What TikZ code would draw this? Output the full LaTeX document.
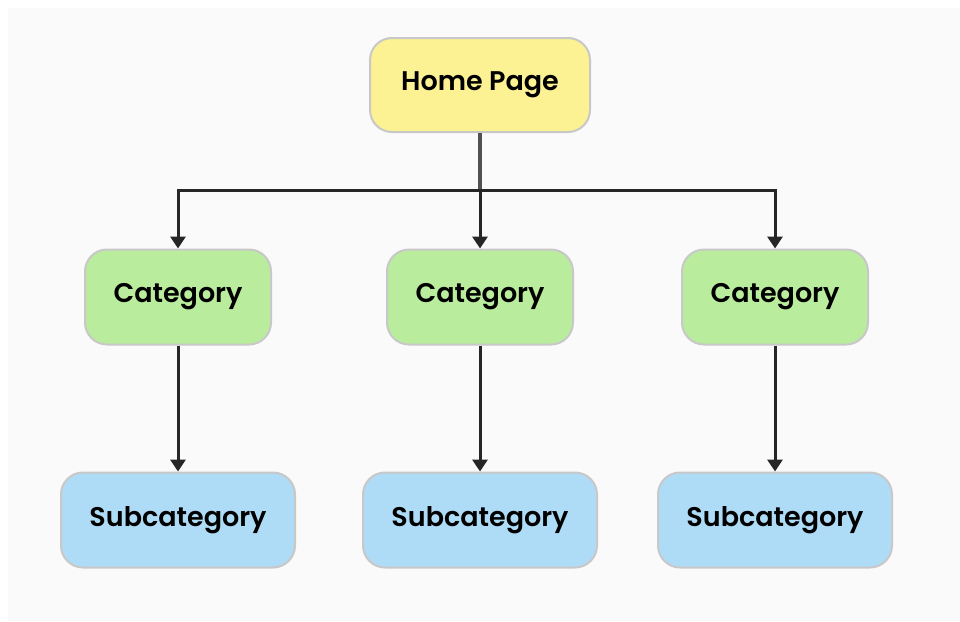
\documentclass[tikz,border=0pt]{standalone}
\usepackage{fontspec}
\setmainfont{Poppins}[BoldFont={* SemiBold}]
\usetikzlibrary{arrows.meta}
\definecolor{bgpanel}{HTML}{FAFAFA}
\definecolor{homefill}{HTML}{FCF293}
\definecolor{catfill}{HTML}{BAEC9E}
\definecolor{subfill}{HTML}{AEDCF7}
\definecolor{boxline}{HTML}{C8C8C8}
\definecolor{wire}{HTML}{262626}
\tikzset{
  x=1pt, y=-1pt,
  card/.style={draw=boxline, line width=2pt, rounded corners=22pt,
    font=\bfseries\fontsize{27}{31}\selectfont, text=black, inner sep=0pt},
  homecard/.style={card, fill=homefill, minimum width=220pt, minimum height=94pt},
  catcard/.style={card, fill=catfill, minimum width=186pt, minimum height=95pt},
  subcard/.style={card, fill=subfill, minimum width=234pt, minimum height=95pt},
  link/.style={draw=wire, line width=3pt},
  stem/.style={draw=wire!80, line width=4pt},
  arrowlink/.style={link, -{Triangle[width=15pt,length=12pt]}}
}
\begin{document}
\begin{tikzpicture}
  \useasboundingbox (0,0) rectangle (960,621);
  \fill[white] (0,0) rectangle (960,621);
  \fill[bgpanel] (8,8) rectangle (960,621);

  \node[homecard] (home) at (480,85) {Home Page};

  \node[catcard] (c1) at (178,297) {Category};
  \node[catcard] (c2) at (480,297) {Category};
  \node[catcard] (c3) at (775,297) {Category};

  \node[subcard] (s1) at (178,520) {Subcategory};
  \node[subcard] (s2) at (480,520) {Subcategory};
  \node[subcard] (s3) at (775,520) {Subcategory};

  \coordinate (hub) at (480,190);
  \draw[stem] (home.south) -- (hub);
  \draw[arrowlink] (hub) -| (c1.north);
  \draw[arrowlink] (hub) -- (c2.north);
  \draw[arrowlink] (hub) -| (c3.north);

  \draw[arrowlink] (c1.south) -- (s1.north);
  \draw[arrowlink] (c2.south) -- (s2.north);
  \draw[arrowlink] (c3.south) -- (s3.north);
\end{tikzpicture}
\end{document}
